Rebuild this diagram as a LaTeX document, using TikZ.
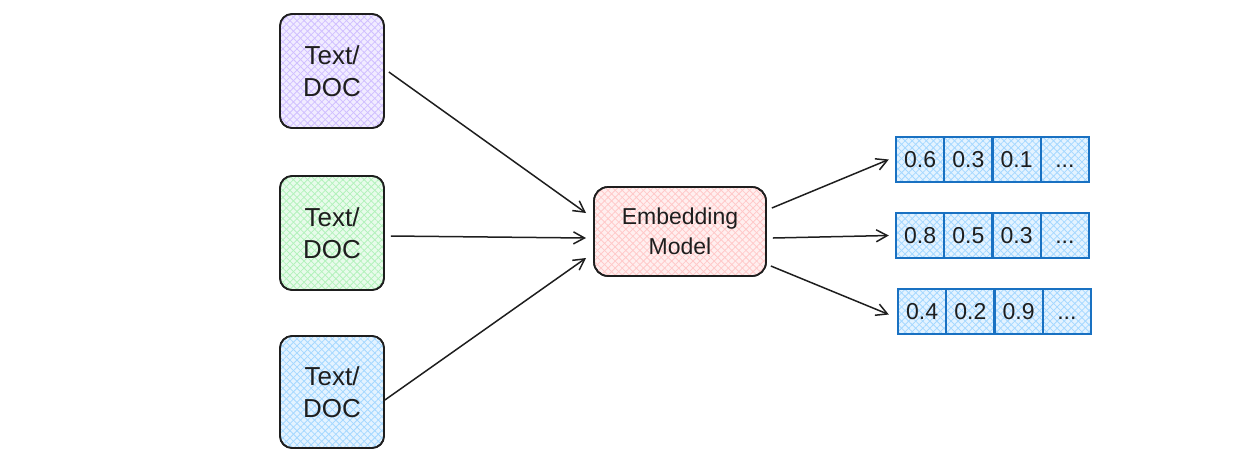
\documentclass[tikz,border=0pt]{standalone}
\usepackage{fontspec}
\setmainfont{Liberation Sans}
\usetikzlibrary{patterns.meta,arrows.meta}
\definecolor{ink}{HTML}{1E1E1E}
\definecolor{lav}{HTML}{D0BFFF}
\definecolor{grn}{HTML}{B2F2BB}
\definecolor{sky}{HTML}{A5D8FF}
\definecolor{pnk}{HTML}{FFC9C9}
\definecolor{vblue}{HTML}{1971C2}
\tikzset{
  hatch/.style 2 args={preaction={fill=#1!30},
    postaction={pattern={Lines[angle=45,distance=5pt,line width=0.8pt]},pattern color=#1},
    postaction={pattern={Lines[angle=-45,distance=5pt,line width=0.8pt]},pattern color=#1},
    postaction={draw=#2}},
  docbox/.style={draw=ink,line width=1.7pt,rounded corners=12pt,minimum width=104pt,minimum height=114pt,
    align=center,font=\fontsize{26}{32}\selectfont,text=ink,inner sep=0pt},
  cell/.style={draw=vblue,line width=2.4pt,minimum width=48.25pt,minimum height=45pt,inner sep=0pt,
    text height=16.5pt,text depth=0pt,
    font=\fontsize{23}{24}\selectfont,text=ink,hatch={sky}{vblue}},
  conn/.style={draw=ink,line width=1.5pt,-{Straight Barb[length=11pt,width=12pt,line width=1.5pt]}}
}
\begin{document}
\begin{tikzpicture}[x=1pt,y=-1pt]
\useasboundingbox (0,0) rectangle (1249,459);
\node[docbox,hatch={lav}{ink}] (d1) at (332,71) {Text/\\DOC};
\node[docbox,hatch={grn}{ink}] (d2) at (332,233) {Text/\\DOC};
\node[docbox,hatch={sky}{ink},minimum height=112pt] (d3) at (332,392) {Text/\\DOC};
\node[docbox,hatch={pnk}{ink},minimum width=172pt,minimum height=89pt,rounded corners=14pt,font=\fontsize{23}{30}\selectfont] (em) at (680,231.5) {Embedding\\Model};
% vectors
\foreach \r/\y/\xo/\a/\b/\c in {1/159.5/896/0.6/0.3/0.1, 2/235.5/896/0.8/0.5/0.3, 3/311.5/898/0.4/0.2/0.9}{
  \node[cell] (v\r a) at (\xo+24.1,\y) {\a};
  \node[cell] (v\r b) at (\xo+72.4,\y) {\b};
  \node[cell] (v\r c) at (\xo+120.6,\y) {\c};
  \node[cell] (v\r d) at (\xo+168.9,\y) {...};
}
\coordinate (e1) at (586,213);
\coordinate (e2) at (586,238);
\coordinate (e3) at (586,258);
\draw[conn] ([xshift=4pt]d1.east |- 0,72) -- (e1);
\draw[conn] ([xshift=6pt]d2.east |- 0,236) -- (e2);
\draw[conn] (d3.east |- 0,400) -- (e3);
\draw[conn] ([xshift=5pt]em.east |- 0,208) -- ([xshift=-6pt]v1a.west);
\draw[conn] ([xshift=6pt]em.east |- 0,238) -- ([xshift=-6pt]v2a.west);
\draw[conn] ([xshift=4pt]em.east |- 0,266) -- ([xshift=-8pt,yshift=-3pt]v3a.west);
\end{tikzpicture}
\end{document}
